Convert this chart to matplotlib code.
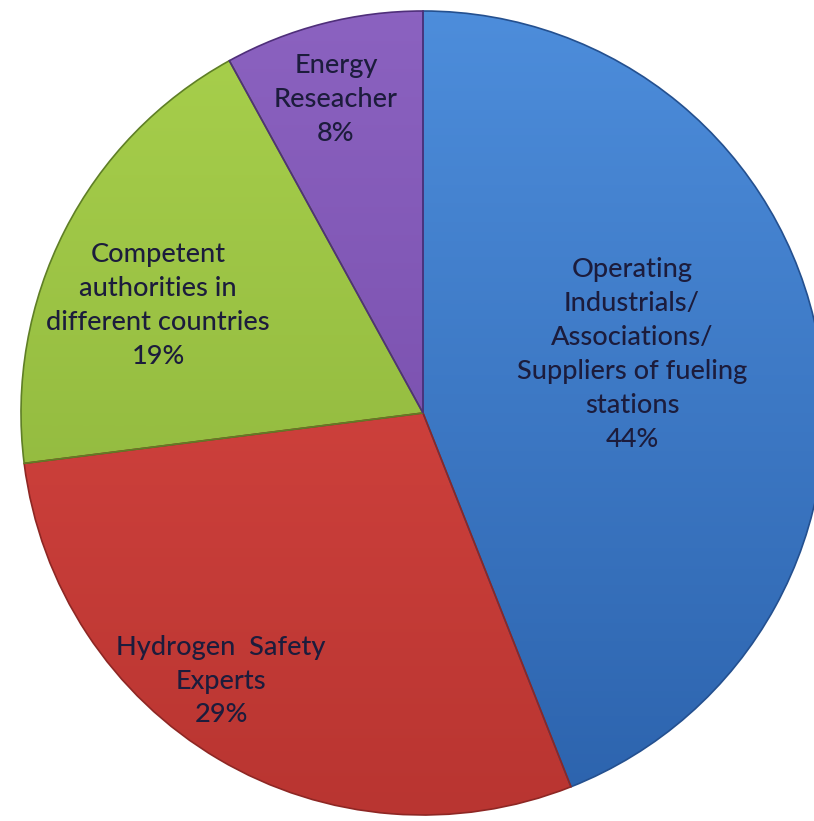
import numpy as np
import matplotlib
matplotlib.use("Agg")
import matplotlib.pyplot as plt
from matplotlib.colors import LinearSegmentedColormap

# ---- data ----
categories = [
    "Operating\nIndustrials/\nAssociations/\nSuppliers of fueling\nstations",
    "Hydrogen  Safety\nExperts",
    "Competent\nauthorities in\ndifferent countries",
    "Energy\nReseacher",
]
shares = [44, 29, 19, 8]

# ---- styling ----
top_colors = ["#4d8ddb", "#e04b46", "#a8d04c", "#8b62c0"]
bottom_colors = ["#2c63ad", "#b93531", "#86ad38", "#6f45a3"]
edge_colors = ["#24508f", "#8e2724", "#5f7f26", "#4f2f7a"]
label_pos = [(632, 354), (221, 681), (158, 305), (336, 99)]  # pixel positions (x, y from top)

W, H = 814, 821
cx, cy, R = 423, H - 413, 402

fig = plt.figure(figsize=(W / 100, H / 100), dpi=100)
ax = fig.add_axes([0, 0, 1, 1])

wedges, _ = ax.pie(shares, startangle=90, counterclock=False,
                   center=(cx, cy), radius=R,
                   wedgeprops=dict(linewidth=1.2))

grad = np.linspace(0, 1, 256).reshape(-1, 1)
for w, tc, bc, ec in zip(wedges, top_colors, bottom_colors, edge_colors):
    w.set_facecolor("none")
    w.set_edgecolor(ec)
    w.set_zorder(3)
    cmap = LinearSegmentedColormap.from_list("g", [tc, bc])
    im = ax.imshow(grad, cmap=cmap, extent=(cx - R, cx + R, cy - R, cy + R),
                   origin="upper", aspect="auto", zorder=2, interpolation="bilinear")
    im.set_clip_path(w)

for (x, y), cat, s in zip(label_pos, categories, shares):
    ax.text(x, H - y, f"{cat}\n{s}%", ha="center", va="center",
            fontsize=19.5, family="Lato", fontweight="medium", color="#1c1c3c",
            linespacing=1.45, zorder=5)

ax.set_xlim(0, W)
ax.set_ylim(0, H)
ax.set_aspect("equal")
ax.axis("off")
fig.savefig("out.png", dpi=100, facecolor="white")
